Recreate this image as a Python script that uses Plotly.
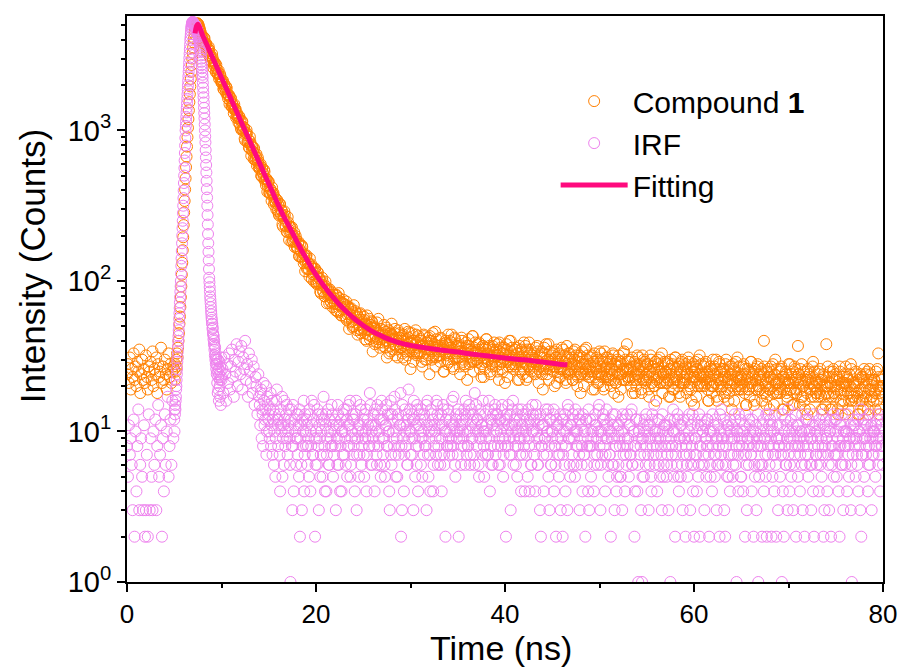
import numpy as np
import plotly.graph_objects as go

# ---------------- data ----------------
# Compound 1 decay: segments of a regular time grid (start ns, step ns);
# seg4 holds the interleaved channels (x.05 ns) of the same record.
cmp_starts = [0.0, 5.0, 8.0, 8.05]
cmp_steps = [0.1, 0.05, 0.1, 0.1]
cmp_seg1 = [24, 28, 21, 31, 19, 26, 23, 33, 22, 27, 20, 29, 25, 35, 18, 24, 30, 22, 26, 21,
            32, 23, 19, 27, 25, 29, 22, 34, 20, 26, 24, 31, 18, 28, 23, 25, 36, 21, 27, 22,
            30, 24, 19, 26, 33, 23, 28, 21, 25, 27]
cmp_seg2 = [26, 22, 28, 25, 30, 27, 33, 31, 36, 40, 45, 52, 58, 67, 78, 92, 110, 132, 160, 195,
            235, 285, 340, 405, 480, 570, 670, 780, 900, 1040, 1190, 1360, 1540, 1740, 1960, 2200,
            2450, 2720, 3000, 3280, 3560, 3840, 4100, 4350, 4570, 4760, 4910, 5030, 5110, 5150,
            5120, 5060, 4950, 4830, 4720, 4580, 4470, 4330, 4200, 4080]
cmp_seg3 = [
    4229, 3787, 4097, 3680, 3738, 3251, 3408, 3437, 3082, 2898,
    3221, 2936, 2727, 2809, 2445, 2561, 2359, 2498, 2275, 2280,
    2072, 2122, 1884, 2029, 1884, 1953, 1717, 1626, 1713, 1580,
    1637, 1438, 1473, 1298, 1399, 1383, 1249, 1245, 1128, 1231,
    1165, 1009, 1145, 996, 1033, 857, 931, 954, 829, 769,
    906, 806, 735, 778, 646, 702, 633, 696, 618, 628,
    556, 583, 499, 562, 514, 547, 462, 433, 474, 428,
    456, 384, 404, 341, 386, 384, 338, 339, 299, 343,
    323, 272, 324, 274, 291, 230, 260, 274, 231, 212,
    266, 234, 210, 229, 182, 206, 183, 210, 183, 189,
    164, 177, 146, 174, 156, 172, 140, 131, 149, 133,
    148, 121, 131, 107, 127, 129, 111, 114, 99, 121,
    112, 95, 114, 96, 103, 83, 94, 99, 85, 79,
    99, 88, 80, 88, 71, 81, 72, 84, 74, 77,
    71, 80, 63, 74, 83, 64, 68, 59, 71, 75,
    67, 57, 73, 60, 66, 48, 60, 66, 54, 49,
    69, 59, 53, 61, 44, 55, 48, 61, 47, 53,
    48, 55, 41, 51, 59, 44, 48, 41, 51, 54,
    34, 48, 49, 43, 39, 46, 56, 39, 43, 41,
    45, 37, 51, 40, 46, 31, 42, 47, 37, 34,
    52, 43, 38, 45, 32, 41, 35, 47, 38, 42,
    36, 43, 31, 40, 48, 34, 38, 32, 42, 45,
    26, 39, 40, 35, 33, 38, 44, 33, 36, 34,
    33, 40, 29, 37, 44, 33, 36, 30, 39, 42,
    24, 37, 40, 34, 31, 36, 46, 31, 35, 32,
    37, 32, 42, 34, 38, 25, 35, 40, 32, 28,
    44, 36, 33, 39, 27, 35, 30, 41, 33, 37,
    31, 37, 27, 34, 42, 30, 33, 28, 36, 39,
    22, 35, 37, 31, 29, 34, 43, 29, 33, 30,
    34, 29, 38, 31, 35, 23, 32, 37, 29, 26,
    41, 33, 30, 36, 25, 32, 28, 37, 30, 34,
    29, 35, 25, 32, 39, 28, 31, 26, 33, 36,
    21, 33, 35, 29, 27, 32, 40, 27, 31, 28,
    32, 27, 36, 29, 33, 22, 30, 35, 27, 24,
    39, 31, 28, 34, 23, 30, 26, 35, 28, 32,
    27, 33, 24, 30, 37, 26, 29, 25, 31, 34,
    19, 31, 33, 27, 26, 30, 38, 26, 29, 27,
    30, 25, 34, 27, 31, 21, 28, 33, 26, 23,
    36, 29, 26, 32, 22, 28, 25, 33, 26, 30,
    25, 31, 22, 28, 35, 24, 27, 23, 29, 32,
    18, 29, 31, 25, 24, 28, 36, 24, 27, 25,
    28, 23, 32, 25, 29, 19, 26, 31, 24, 21,
    34, 27, 24, 30, 20, 26, 23, 31, 24, 28,
    23, 29, 20, 26, 33, 22, 25, 21, 27, 30,
    17, 27, 29, 24, 22, 26, 34, 22, 25, 38,
    26, 22, 30, 23, 27, 18, 25, 29, 22, 20,
    32, 26, 23, 28, 19, 25, 22, 30, 23, 27,
    22, 28, 19, 25, 32, 21, 24, 20, 26, 29,
    16, 26, 28, 23, 21, 25, 33, 21, 24, 22,
    25, 21, 29, 22, 26, 17, 24, 28, 21, 19,
    31, 25, 22, 27, 18, 24, 21, 29, 22, 26,
    21, 27, 18, 24, 31, 20, 23, 19, 25, 28,
    15, 25, 27, 22, 20, 24, 32, 20, 23, 21,
    24, 20, 28, 21, 25, 16, 23, 27, 20, 18,
    30, 24, 21, 26, 17, 23, 20, 28, 21, 25,
    20, 26, 17, 23, 30, 19, 22, 18, 24, 27,
    14, 24, 26, 21, 19, 23, 31, 19, 22, 20,
    23, 19, 27, 20, 24, 15, 22, 26, 19, 17,
    29, 23, 20, 25, 16, 22, 19, 27, 20, 24,
    19, 25, 16, 22, 40, 18, 21, 17, 23, 26,
    14, 23, 25, 20, 18, 22, 30, 18, 21, 19,
    22, 18, 26, 19, 23, 14, 21, 25, 18, 16,
    28, 22, 19, 24, 15, 21, 18, 26, 19, 23,
    37, 24, 15, 21, 28, 17, 20, 16, 22, 25,
    13, 22, 24, 19, 17, 21, 29, 17, 20, 18,
    21, 17, 25, 18, 22, 14, 20, 24, 17, 15,
    38, 21, 18, 23, 14, 20, 17, 25, 18, 22,
    17, 23, 14, 20, 27, 16, 19, 15, 21, 24,
    13, 21, 23, 18, 16, 20, 28, 16, 19, 17,
    20, 16, 24, 17, 21, 13, 19, 23, 16, 14,
    26, 20, 17, 22, 14, 19, 16, 24, 17, 21,
    16, 22, 14, 19, 26, 33, 18, 14, 20, 23,
    20]
cmp_seg4 = [
    3878, 4137, 3766, 3801, 3330, 3512, 3586, 3134, 3164, 2872,
    3046, 2592, 2817, 2652, 2729, 2398, 2422, 2198, 2364, 2136,
    2068, 2144, 1868, 1928, 1789, 1908, 1738, 1729, 1491, 1642,
    1450, 1498, 1390, 1490, 1368, 1215, 1300, 1207, 1242, 1091,
    1036, 1152, 1023, 1050, 881, 965, 1007, 843, 867, 764,
    844, 678, 776, 722, 762, 643, 662, 583, 657, 576,
    558, 596, 496, 527, 480, 533, 473, 476, 391, 456,
    386, 410, 373, 418, 376, 321, 359, 327, 346, 292,
    279, 325, 281, 295, 237, 270, 290, 234, 246, 212,
    245, 187, 226, 209, 227, 185, 196, 168, 199, 170,
    165, 182, 146, 160, 144, 168, 146, 149, 116, 146,
    120, 132, 119, 141, 124, 103, 121, 110, 120, 99,
    97, 114, 99, 104, 85, 98, 105, 85, 91, 79,
    92, 71, 86, 81, 88, 73, 77, 67, 81, 70,
    64, 81, 70, 62, 77, 73, 59, 72, 65, 70,
    70, 58, 55, 68, 61, 53, 65, 57, 62, 50,
    50, 63, 57, 47, 58, 51, 60, 45, 55, 49,
    58, 45, 52, 40, 50, 47, 56, 43, 49, 53,
    42, 50, 38, 47, 53, 41, 45, 36, 48, 44,
    39, 47, 44, 36, 49, 40, 43, 33, 45, 41,
    44, 35, 41, 48, 37, 42, 31, 40, 45, 36,
    40, 33, 44, 37, 30, 41, 36, 46, 34, 39,
    36, 45, 29, 40, 34, 47, 32, 39, 43, 37,
    41, 34, 27, 37, 43, 30, 39, 35, 32, 40,
    43, 35, 30, 45, 32, 38, 27, 41, 37, 34,
    32, 29, 41, 35, 37, 25, 33, 39, 30, 38,
    29, 40, 36, 44, 33, 26, 42, 31, 37, 34,
    38, 31, 24, 36, 40, 29, 34, 27, 32, 37,
    33, 41, 28, 35, 30, 43, 25, 36, 39, 32,
    30, 35, 39, 26, 33, 28, 37, 23, 31, 36,
    41, 29, 33, 37, 24, 31, 27, 35, 39, 31,
    27, 32, 38, 22, 34, 36, 29, 25, 35, 30,
    32, 38, 23, 30, 40, 28, 34, 36, 26, 30,
    35, 28, 33, 22, 31, 37, 25, 29, 34, 26,
    29, 37, 22, 35, 27, 39, 33, 25, 31, 29,
    30, 25, 36, 28, 34, 21, 32, 27, 33, 24,
    26, 36, 28, 38, 24, 30, 22, 34, 28, 32,
    33, 27, 20, 31, 35, 25, 29, 23, 32, 26,
    27, 35, 25, 29, 21, 37, 31, 24, 33, 27,
    28, 22, 34, 30, 25, 32, 20, 26, 31, 24,
    24, 34, 28, 20, 35, 26, 30, 32, 23, 26,
    31, 25, 19, 29, 33, 23, 27, 21, 30, 24,
    25, 33, 23, 29, 19, 34, 27, 25, 31, 22,
    26, 22, 30, 24, 32, 18, 28, 21, 29, 24,
    32, 24, 19, 28, 25, 33, 22, 30, 26, 23,
    23, 29, 26, 20, 31, 22, 27, 18, 24, 28,
    24, 31, 22, 27, 18, 32, 26, 29, 21, 24,
    28, 23, 17, 25, 30, 21, 27, 23, 20, 29,
    22, 30, 25, 31, 21, 27, 18, 24, 29, 23,
    25, 21, 28, 17, 26, 30, 23, 19, 27, 22,
    31, 23, 26, 20, 28, 17, 25, 30, 21, 23,
    22, 28, 24, 19, 29, 21, 26, 16, 27, 23,
    23, 29, 17, 26, 30, 21, 24, 28, 20, 23,
    27, 22, 29, 24, 19, 16, 25, 22, 26, 20,
    20, 27, 24, 30, 16, 22, 29, 25, 19, 22,
    26, 23, 18, 28, 21, 25, 16, 27, 22, 20,
    22, 28, 16, 25, 29, 20, 23, 27, 19, 22,
    24, 21, 28, 18, 26, 15, 23, 19, 25, 21,
    29, 21, 24, 15, 26, 22, 19, 28, 20, 23,
    22, 26, 18, 24, 27, 20, 15, 25, 21, 19,
    19, 27, 22, 28, 15, 24, 21, 26, 18, 21,
    25, 20, 27, 14, 23, 19, 22, 24, 17, 21,
    21, 28, 19, 23, 25, 15, 27, 22, 18, 21,
    24, 19, 26, 17, 22, 20, 25, 14, 23, 18,
    26, 21, 14, 23, 19, 27, 20, 25, 22, 18,
    19, 24, 21, 26, 17, 22, 14, 23, 20, 18,
    20, 27, 17, 25, 21, 14, 23, 26, 18, 20,
    24, 19, 13, 22, 25, 18, 21, 23, 16, 20,
    27, 20, 22, 14, 24, 18, 26, 17, 21, 20,
    21, 25, 18, 13, 22, 16, 24, 19, 23, 17,
    18, 24, 21, 25, 13, 26, 19, 22, 17, 20,
    22, 18, 25, 16, 20, 23, 13, 19, 22, 17]

# IRF: segments of a regular time grid (start ns, step ns); seg4 = interleaved channels
irf_starts = [0.0, 5.0, 10.0, 14.05]
irf_steps = [0.1, 0.025, 0.1, 0.1]
irf_seg1 = [8, 5, 11, 7, 9, 6, 3, 12, 2, 10, 4, 8, 14, 3, 6, 9, 5, 3, 11, 2,
            3, 7, 2, 13, 3, 9, 5, 3, 10, 6, 12, 3, 8, 15, 5, 7, 11, 2, 9, 4,
            13, 6, 10, 17, 5, 8, 12, 6, 16, 9]
irf_seg2 = [12, 10, 14, 13, 15, 14,
            16, 17, 19, 20, 22, 24, 26, 29, 31, 34, 37, 40, 43, 47, 51, 56, 61, 66, 72, 78,
            85, 92, 100, 112, 126, 141, 158, 178, 200, 224, 251, 282, 316, 355, 398, 447,
            501, 562, 631, 708, 794, 891, 1000, 1072, 1148, 1230, 1318, 1413, 1514, 1622,
            1738, 1862, 1995, 2138, 2291, 2455, 2630, 2818, 3020, 3236, 3467, 3715, 3981,
            4169, 4365, 4571, 4786, 4898, 5012, 5129, 5188, 5248, 5260, 5240, 5200,
            5176, 5152, 5128, 5105, 5081, 5058, 5035, 5012, 4969, 4926, 4884, 4842, 4800,
            4759, 4718, 4677, 4610, 4544, 4479, 4416, 4353, 4291, 4229, 4169, 4050, 3935,
            3823, 3715, 3609, 3507, 3407, 3311, 3151, 2999, 2855, 2717, 2586, 2461, 2343,
            2239, 2074, 1923, 1782, 1660, 1531, 1413, 1303, 1202, 1096, 1000, 912, 832,
            741, 661, 589, 525, 462, 407, 358, 316, 274, 237, 205, 178, 156, 137, 120, 105,
            98, 91, 85, 79, 75, 71, 67, 63, 60, 57, 55, 52, 52, 48, 49, 45, 44, 41, 43, 38,
            40, 35, 37, 32, 36, 30, 33, 28, 31, 26, 30, 24,
            28, 21, 25, 18, 30, 23, 19, 26, 16, 24, 29, 20, 22, 17, 27, 25, 15, 23, 31]
irf_seg3 = [
    22, 26, 18, 31, 24, 16, 28, 21, 33, 19,
    27, 35, 23, 17, 30, 25, 38, 20, 29, 34,
    24, 37, 19, 31, 26, 40, 22, 28, 17, 33,
    25, 21, 30, 18, 27, 15, 23, 20, 13, 24,
    17, 11, 19, 14, 8, 16, 12, 20, 10, 15,
    13, 9, 18, 11, 7, 14, 10, 5, 16, 12,
    8, 13, 4, 11, 17, 9, 6, 12, 10, 15,
    7, 11, 9, 1, 14, 3, 8, 12, 10, 6,
    9, 13, 5, 2, 11, 3, 8, 16, 7, 10,
    12, 6, 9, 14, 4, 8, 11, 7, 15, 2,
    10, 6, 13, 3, 9, 7, 12, 5, 17, 8,
    11, 4, 9, 14, 6, 10, 8, 13, 5, 7,
    12, 3, 9, 15, 6, 11, 8, 4, 10, 13,
    7, 9, 14, 5, 11, 8, 16, 6, 10, 12,
    8, 4, 13, 3, 9, 11, 7, 15, 6, 10,
    12, 5, 9, 14, 7, 11, 8, 18, 6, 10,
    9, 13, 4, 11, 7, 15, 8, 10, 6, 12,
    14, 7, 9, 5, 11, 8, 13, 10, 3, 16,
    6, 12, 9, 17, 7, 10, 5, 13, 8, 11,
    2, 3, 9, 4, 14, 8, 11, 6, 19, 10,
    7, 13, 9, 3, 12, 5, 8, 15, 4, 11,
    10, 6, 14, 9, 7, 12, 8, 3, 16, 5,
    9, 4, 11, 13, 4, 8, 10, 7, 15, 6,
    12, 9, 7, 4, 11, 14, 6, 2, 10, 8,
    13, 7, 10, 9, 16, 8, 11, 6, 12, 9,
    7, 2, 10, 13, 8, 11, 9, 14, 6, 12,
    10, 8, 15, 6, 11, 9, 13, 7, 18, 10,
    8, 12, 6, 9, 14, 11, 7, 10, 5, 13,
    9, 11, 7, 16, 4, 8, 12, 6, 10, 14,
    7, 10, 13, 6, 9, 12, 8, 15, 5, 11,
    9, 2, 13, 8, 11, 7, 3, 10, 14, 6,
    12, 8, 10, 5, 14, 9, 7, 4, 11, 13,
    8, 4, 10, 12, 5, 9, 4, 11, 6, 15,
    10, 7, 4, 13, 9, 6, 12, 3, 2, 8,
    11, 4, 9, 14, 7, 10, 5, 3, 12, 6,
    9, 13, 4, 8, 2, 11, 7, 5, 10, 3,
    8, 2, 12, 6, 4, 10, 3, 14, 9, 5,
    11, 7, 13, 9, 5, 10, 6, 8, 12, 3,
    9, 6, 4, 10, 7, 2, 12, 8, 4, 3,
    12, 5, 8, 10, 4, 7, 11, 9, 6, 14,
    8, 3, 10, 7, 13, 12, 4, 9, 11, 6,
    10, 7, 2, 9, 13, 6, 3, 8, 4, 11,
    6, 9, 5, 12, 3, 8, 10, 4, 7, 13,
    9, 5, 11, 7, 14, 6, 10, 2, 8, 12,
    4, 1, 10, 7, 3, 1, 9, 5, 12, 6,
    8, 11, 3, 6, 9, 4, 13, 7, 15, 10,
    7, 4, 9, 12, 5, 8, 3, 10, 6, 11,
    9, 5, 7, 3, 11, 1, 6, 8, 14, 10,
    2, 8, 6, 12, 4, 9, 5, 11, 3, 7,
    10, 2, 7, 5, 9, 13, 3, 6, 8, 4,
    2, 7, 9, 4, 11, 6, 2, 8, 12, 10,
    7, 3, 9, 5, 12, 8, 2, 6, 10, 4,
    8, 11, 5, 7, 3, 9, 6, 2, 10, 14,
    6, 9, 3, 2, 8, 5, 11, 7, 4, 10,
    9, 5, 7, 13, 6, 1, 10, 4, 8, 12,
    5, 8, 4, 10, 2, 7, 3, 9, 6, 11,
    7, 4, 9, 2, 6, 10, 3, 8, 1, 5,
    8, 6, 2, 11, 4, 9, 5, 2, 7, 13,
    6, 10, 2, 5, 8, 4, 7, 2, 9, 3,
    9, 5, 7, 1, 4, 2, 8, 6, 11, 3,
    7, 4, 9, 5, 10, 3, 6, 8, 2, 11,
    5, 8, 4, 10, 6, 3, 9, 2, 7, 12,
    8, 5, 10, 6, 3, 9, 4, 2, 11, 7,
    6, 9, 4, 11, 7, 5, 8, 2, 3, 10,
    9, 4, 7, 3, 10, 2, 6, 8, 5, 12,
    7, 5, 9, 4, 2, 8, 11, 6, 3, 10,
    6, 10, 4, 8, 5, 9, 3, 1, 7, 11,
    8, 5, 9, 6, 4, 10, 3, 2, 7, 12,
    5, 9, 7, 11, 4, 8, 6, 10, 3, 9,
    7, 10, 5, 8, 12, 6, 9, 4, 11, 8,
    6]
irf_seg4 = [
    15, 18, 9, 13, 21, 11, 14, 7, 17, 12,
    10, 14, 8, 16, 12, 6, 13, 9, 19, 11,
    12, 7, 14, 10, 5, 11, 16, 8, 13, 9,
    10, 14, 6, 12, 8, 15, 4, 11, 9, 13,
    7, 11, 14, 9, 6, 12, 10, 4, 13, 8,
    11, 8, 5, 13, 10, 16, 7, 12, 9, 6,
    9, 14, 8, 11, 5, 10, 13, 7, 12, 4,
    13, 7, 10, 6, 12, 9, 15, 8, 11, 10,
    8, 11, 6, 13, 9, 4, 12, 10, 7, 14,
    10, 6, 12, 8, 15, 11, 5, 9, 13, 7,
    12, 9, 16, 7, 10, 5, 11, 14, 8, 9,
    7, 13, 10, 4, 12, 9, 8, 15, 11, 6,
    11, 8, 14, 10, 6, 13, 9, 12, 5, 16,
    9, 12, 6, 11, 15, 8, 10, 4, 13, 7,
    13, 10, 8, 14, 5, 9, 12, 7, 11, 18,
    8, 15, 11, 7, 10, 13, 6, 12, 9, 14,
    10, 7, 12, 16, 9, 11, 6, 14, 8, 13,
    12, 9, 5, 10, 13, 8, 15, 11, 7, 10,
    7, 14, 10, 12, 6, 11, 9, 16, 13, 8,
    11, 6, 13, 9, 15, 7, 10, 12, 8, 14,
    9, 12, 8, 11, 7, 17, 10, 5, 13, 10,
    14, 9, 11, 6, 12, 10, 8, 13, 16, 7,
    8, 13, 10, 7, 14, 9, 12, 6, 11, 15,
    12, 10, 5, 13, 9, 11, 16, 8, 10, 7,
    10, 7, 14, 9, 12, 6, 11, 13, 8, 15,
    13, 11, 8, 12, 6, 10, 14, 9, 7, 12,
    8, 12, 10, 15, 9, 13, 7, 11, 16, 9,
    11, 6, 13, 8, 10, 12, 9, 14, 7, 10,
    9, 13, 7, 11, 14, 8, 12, 6, 10, 13,
    12, 8, 15, 10, 6, 11, 9, 13, 8, 11,
    7, 11, 9, 13, 10, 14, 8, 12, 6, 10,
    10, 14, 8, 6, 12, 9, 11, 7, 13, 9,
    12, 7, 10, 13, 8, 11, 15, 9, 6, 11,
    9, 12, 6, 10, 14, 8, 10, 13, 7, 12,
    11, 8, 13, 7, 10, 12, 6, 9, 14, 8,
    8, 10, 12, 9, 6, 13, 11, 7, 10, 15,
    10, 6, 9, 12, 8, 11, 7, 14, 9, 5,
    7, 12, 10, 6, 11, 9, 13, 8, 5, 10,
    11, 8, 5, 10, 13, 7, 9, 12, 6, 8,
    9, 11, 7, 13, 6, 10, 8, 4, 12, 9,
    6, 10, 12, 8, 9, 5, 11, 7, 10, 13,
    10, 7, 9, 11, 5, 12, 8, 10, 6, 9,
    8, 12, 6, 10, 9, 7, 13, 5, 11, 8,
    11, 6, 10, 8, 12, 9, 7, 10, 5, 12,
    7, 10, 13, 5, 9, 11, 8, 6, 12, 9,
    9, 8, 6, 12, 10, 7, 11, 9, 13, 6,
    12, 9, 7, 10, 5, 13, 8, 11, 6, 10,
    6, 11, 9, 8, 12, 7, 10, 5, 9, 13,
    10, 7, 12, 9, 6, 11, 8, 13, 7, 9,
    8, 12, 10, 6, 11, 9, 5, 10, 12, 7,
    11, 6, 9, 12, 8, 10, 7, 13, 9, 5,
    9, 10, 7, 11, 13, 6, 9, 8, 12, 10,
    7, 12, 10, 8, 5, 11, 9, 13, 6, 9,
    10, 8, 6, 12, 9, 7, 13, 10, 8, 11,
    12, 9, 11, 7, 10, 13, 6, 9, 11, 8,
    8, 11, 9, 13, 7, 10, 12, 6, 9, 14,
    10, 6, 12, 8, 11, 9, 7, 13, 10, 8,
    11, 9, 7, 10, 13, 8, 10, 6, 12, 9,
    7, 12, 10, 9, 6, 11, 13, 8, 10, 7,
    10, 8, 12, 6, 9, 13, 7, 11, 8, 12,
    9, 11, 6, 10, 12, 8, 9, 13, 7, 10,
    12, 7, 10, 8, 11, 6, 13, 9, 10, 8,
    8, 10, 13, 7, 9, 11, 6, 10, 12, 9,
    11, 9, 7, 12, 10, 8, 14, 7, 9, 11,
    9, 12, 8, 10, 6, 13, 9, 11, 7, 10,
    10, 8, 11, 9, 13, 7, 10, 12, 8, 9]

# Fitting curve
fit_time = [7.2, 7.35, 7.5, 8.0, 8.5, 9.0, 9.5, 10.0, 10.5, 11.0, 11.5, 12.0, 12.5, 13.0,
            13.5, 14.0, 14.5, 15.0, 15.5, 16.0, 16.5, 17.0, 17.5, 18.0, 18.5, 19.0, 19.5,
            20.0, 20.5, 21.0, 21.5, 22.0, 22.5, 23.0, 23.5, 24.0, 24.5, 25.0, 25.5, 26.0,
            26.5, 27.0, 27.5, 28.0, 28.5, 29.0, 29.5, 30.0, 31.0, 32.0, 33.0, 34.0, 35.0,
            36.0, 37.0, 38.0, 39.0, 40.0, 41.0, 42.0, 43.0, 44.0, 45.0, 46.0, 46.6]
fit_counts = [4416, 4898, 5070, 4285, 3648, 3097, 2636, 2239, 1905, 1618, 1377, 1170, 995,
              846, 719, 611, 520, 442, 376, 320, 275, 240, 209, 182, 158, 140, 123, 110, 99,
              90, 82, 75.5, 69.5, 64.6, 60.3, 56.5, 53.3, 50.6, 48.2, 46.1, 44.4, 42.9, 41.5,
              40.4, 39.4, 38.6, 37.9, 37.3, 36.4, 35.6, 34.9, 34.3, 33.7, 33.0, 32.4, 31.8,
              31.3, 30.8, 30.3, 29.9, 29.4, 28.9, 28.4, 27.9, 27.7]

x_tick_vals = [0, 20, 40, 60, 80]
x_minor_vals = [10, 30, 50, 70]
y_tick_vals = [1, 10, 100, 1000]
y_tick_text = ["10<sup>0</sup>", "10<sup>1</sup>", "10<sup>2</sup>", "10<sup>3</sup>"]
y_minor_vals = [2, 3, 4, 5, 6, 7, 8, 9, 20, 30, 40, 50, 60, 70, 80, 90,
                200, 300, 400, 500, 600, 700, 800, 900, 2000, 3000, 4000, 5000]


def build(starts, steps, segs):
    t, c = [], []
    for s0, ds, vals in zip(starts, steps, segs):
        t.extend((s0 + ds * np.arange(len(vals))).tolist())
        c.extend(vals)
    return t, c


cmp_t, cmp_c = build(cmp_starts, cmp_steps, [cmp_seg1, cmp_seg2, cmp_seg3, cmp_seg4])
irf_t, irf_c = build(irf_starts, irf_steps, [irf_seg1, irf_seg2, irf_seg3, irf_seg4])

FONT = "Liberation Sans, Arial, sans-serif"

fig = go.Figure()
fig.add_trace(go.Scatter(
    x=cmp_t, y=cmp_c, mode="markers", name="Compound <b>1</b>",
    marker=dict(symbol="circle-open", size=11, color="#FF8000", line=dict(width=1, color="#FF8000"))))
fig.add_trace(go.Scatter(
    x=irf_t, y=irf_c, mode="markers", name="IRF",
    marker=dict(symbol="circle-open", size=11, color="#EE82EE", line=dict(width=1, color="#EE82EE"))))
fig.add_trace(go.Scatter(
    x=fit_time, y=fit_counts, mode="lines", name="Fitting",
    line=dict(color="#FF0A7E", width=5, shape="spline")))

fig.update_layout(
    width=909, height=671,
    margin=dict(l=127, r=22, t=16, b=89),
    paper_bgcolor="white", plot_bgcolor="white",
    font=dict(family=FONT, color="black"),
    showlegend=True,
    legend=dict(x=0.567, y=0.8956, xanchor="left", yanchor="top",
                font=dict(size=30, family=FONT, color="black"),
                bgcolor="rgba(0,0,0,0)", itemwidth=67, tracegroupgap=0),
    xaxis=dict(range=[0, 80], tickvals=x_tick_vals, ticks="outside", ticklen=8, tickwidth=2,
               tickcolor="black", showline=True, linewidth=2, linecolor="black", mirror=True,
               showgrid=False, zeroline=False, tickfont=dict(size=26, family=FONT),
               minor=dict(tickvals=x_minor_vals, ticks="outside", ticklen=4, tickwidth=2,
                          tickcolor="black", showgrid=False)),
    yaxis=dict(type="log", range=[0, 3.76], tickvals=y_tick_vals, ticktext=y_tick_text,
               ticks="outside", ticklen=8, tickwidth=2, tickcolor="black",
               showline=True, linewidth=2, linecolor="black", mirror=True,
               showgrid=False, zeroline=False, tickfont=dict(size=29, family=FONT),
               minor=dict(tickvals=y_minor_vals, ticks="outside", ticklen=4, tickwidth=1.5,
                          tickcolor="black", showgrid=False)),
    annotations=[
        dict(text="Time (ns)", xref="paper", yref="paper", x=0.495, y=-0.117,
             xanchor="center", yanchor="middle", showarrow=False,
             font=dict(size=34, family=FONT, color="black")),
        dict(text="Intensity (Counts)", xref="paper", yref="paper", x=-0.125, y=0.557,
             xanchor="center", yanchor="middle", textangle=-90, showarrow=False,
             font=dict(size=35, family=FONT, color="black")),
    ],
)

fig.write_html("out.html")
